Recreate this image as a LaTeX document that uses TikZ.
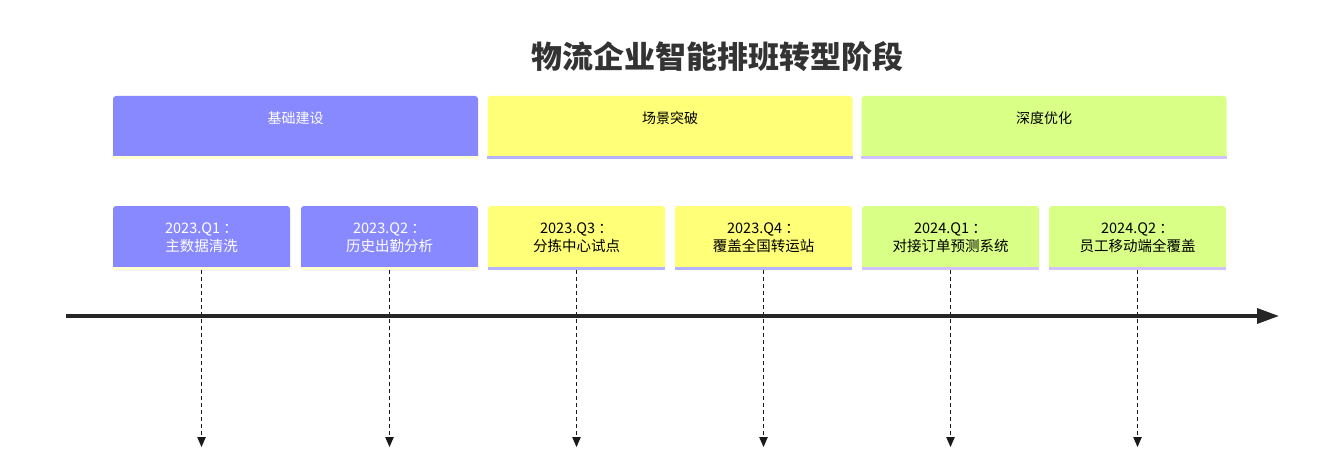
\documentclass[tikz,border=0pt]{standalone}
\usepackage{fontspec}
\setmainfont{Noto Sans CJK SC}
\usetikzlibrary{arrows.meta}
\definecolor{cpurple}{HTML}{8888FF}
\definecolor{cyellow}{HTML}{FFFF78}
\definecolor{cgreen}{HTML}{D9FF86}
\definecolor{lpurple}{HTML}{FFFFD0}
\definecolor{lyellow}{HTML}{B3B3FF}
\definecolor{lgreen}{HTML}{D0C2FF}
\definecolor{ink}{HTML}{333333}
\begin{document}
\begin{tikzpicture}[x=1pt,y=-1pt,
  box/.style={rounded corners=3pt, inner sep=0pt, align=center},
  sect/.style={box, minimum width=365pt, minimum height=63pt, font=\fontsize{14}{16}\selectfont},
  task/.style={box, minimum width=177pt, minimum height=64pt, font=\fontsize{14.5}{18}\selectfont},
  conn/.style={dash pattern=on 4pt off 3pt, line width=1.8pt, -{Triangle[length=10pt,width=8pt]}, draw=black!90}
]
\useasboundingbox (0,0) rectangle (1323,468);
\node[font=\bfseries\fontsize{31}{34}\selectfont, text=ink] (title) at (717,57) {物流企业智能排班转型阶段};
% sections
\node[sect, fill=cpurple, text=white] (s1) at (295.5,127.5) {};
\node[sect, fill=cyellow, text=black] (s2) at (670,127.5) {};
\node[sect, fill=cgreen, text=black] (s3) at (1044,127.5) {};
\fill[lpurple] ([yshift=3.5pt]s1.south west) rectangle (s1.south east);
\fill[lyellow] ([yshift=3.5pt]s2.south west) rectangle (s2.south east);
\fill[lgreen] ([yshift=3.5pt]s3.south west) rectangle (s3.south east);
\node[font=\fontsize{14}{16}\selectfont, text=white] (l1) at (295.5,118) {基础建设};
\node[font=\fontsize{14}{16}\selectfont, text=black] (l2) at (670,118) {场景突破};
\node[font=\fontsize{14}{16}\selectfont, text=black] (l3) at (1044,118) {深度优化};
% tasks
\node[task, fill=cpurple, text=white] (t1) at (201.5,238) {2023.Q1 ：\\主数据清洗};
\node[task, fill=cpurple, text=white] (t2) at (389.5,238) {2023.Q2 ：\\历史出勤分析};
\node[task, fill=cyellow, text=black] (t3) at (576.5,238) {2023.Q3 ：\\分拣中心试点};
\node[task, fill=cyellow, text=black] (t4) at (763.5,238) {2023.Q4 ：\\覆盖全国转运站};
\node[task, fill=cgreen, text=black] (t5) at (950.5,238) {2024.Q1 ：\\对接订单预测系统};
\node[task, fill=cgreen, text=black] (t6) at (1137.5,238) {2024.Q2 ：\\员工移动端全覆盖};
\foreach \n/\c in {1/lpurple,2/lpurple,3/lyellow,4/lyellow,5/lgreen,6/lgreen}{
  \fill[\c] ([yshift=3.5pt]t\n.south west) rectangle (t\n.south east);
}
% connectors
\foreach \n in {1,...,6}{
  \coordinate (b\n) at ([yshift=-177pt]t\n.south);
  \draw[conn] (t\n.south) -- (b\n);
}
% axis
\coordinate (axs) at (66,316);
\coordinate (axe) at (1279,316);
\draw[line width=3.5pt, -{Triangle[length=22pt,width=15pt]}, color=black!85] (axs) -- (axe);
\end{tikzpicture}
\end{document}
